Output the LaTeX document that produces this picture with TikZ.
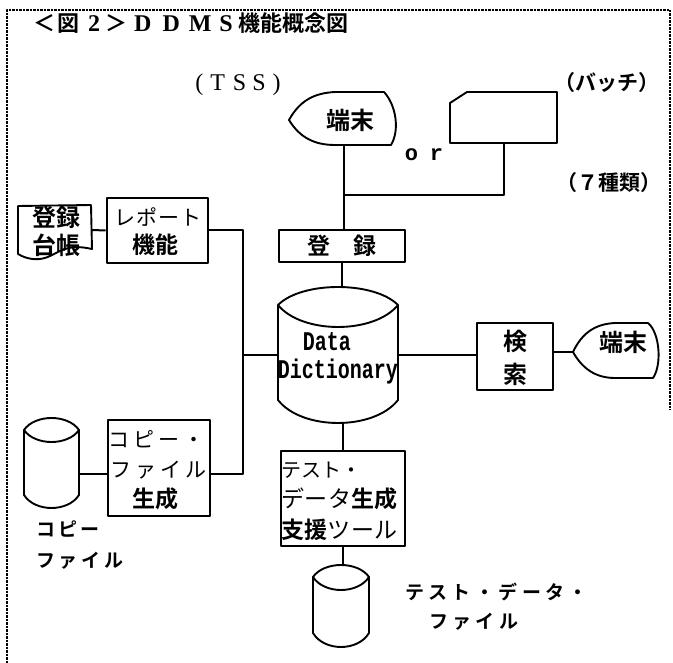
\documentclass[tikz,border=0pt]{standalone}
\usepackage{fontspec}
\usepackage{graphicx}
\newfontfamily\jp{Noto Sans CJK JP}
\newfontfamily\jpb{Noto Sans CJK JP Bold}
\newfontfamily\srf{Liberation Serif}
\newfontfamily\srbf{Liberation Serif Bold}
\newfontfamily\mbf{Liberation Mono Bold}
\newcommand\J[3]{{\jp\fontsize{#1}{#1}\selectfont\addfontfeature{LetterSpace=#2}#3}}
\newcommand\JB[3]{{\jpb\fontsize{#1}{#1}\selectfont\addfontfeature{LetterSpace=#2}#3}}
\newcommand\ddisk[7]{%
\draw[shp] (#1,#4) .. controls ({#1+0.2*(#2-#1)},{#4+4/3*(#3-#4)}) and ({#2-0.2*(#2-#1)},{#4+4/3*(#3-#4)}) .. (#2,#4) -- (#2,#6) .. controls ({#2-0.2*(#2-#1)},{#6+4/3*(#7-#6)}) and ({#1+0.2*(#2-#1)},{#6+4/3*(#7-#6)}) .. (#1,#6) -- cycle;
\draw[shp] (#1,#4) .. controls ({#1+0.2*(#2-#1)},{#4+4/3*(#5-#4)}) and ({#2-0.2*(#2-#1)},{#4+4/3*(#5-#4)}) .. (#2,#4);}
\begin{document}
\begin{tikzpicture}[x=1pt,y=-1pt,line join=round,
  conn/.style={line width=2pt},
  shp/.style={line width=1.9pt},
  boxst/.style={draw,line width=2.8pt,inner sep=0},
  ghost/.style={inner sep=0},
  txt/.style={inner sep=0},
  border/.style={line width=1.1pt,dash pattern=on 2.5pt off 1pt}]
\useasboundingbox (0,0) rectangle (673,663);
\draw[border] (7,663) -- (7,10) -- (670,10) -- (670,410);
% title
\node[anchor=west,inner sep=0] (title) at (33,23) {\jpb\fontsize{22}{22}\selectfont ＜\kern2pt 図\kern9pt{\srbf\fontsize{24}{24}\selectfont 2}\kern5pt ＞\kern7pt{\srbf\fontsize{24}{24}\selectfont D\kern11pt D\kern9pt M\kern8pt S}\kern6pt 機能概念図};
% shapes
\draw[shp] (289,120) .. controls (300,100) and (315,93) .. (335,92) -- (384,92) .. controls (396,105) and (400,130) .. (391,145) -- (335,145) .. controls (315,145) and (300,138) .. (289,120) -- cycle;
\draw[shp] (573,352) .. controls (582,333) and (595,324) .. (615,323) -- (648,323) .. controls (660,333) and (662,365) .. (653,378) -- (615,378) .. controls (595,378) and (582,368) .. (573,352) -- cycle;
\draw[shp] (450,103) -- (467,92) -- (557,92) -- (557,143) -- (450,143) -- cycle;
\draw[shp] (18,206) -- (91,205) -- (92,249) .. controls (70,244) and (62,250) .. (50,256) .. controls (40,261) and (28,260) .. (18,254) -- cycle;
\ddisk{278}{398}{287}{305}{327}{400}{423}
\ddisk{24}{79}{418}{430}{442}{495}{508}
\ddisk{313}{369}{565}{577}{590}{633}{647}
% ghost nodes for shapes
\node[ghost,minimum width=109,minimum height=53] (t1) at (343.5,118.5) {};
\node[ghost,minimum width=107,minimum height=51] (bt) at (503.5,117.5) {};
\node[ghost,minimum width=87,minimum height=55] (t2) at (616.5,352) {};
\node[ghost,minimum width=74,minimum height=52] (doc) at (55,230) {};
\node[ghost,minimum width=120,minimum height=136] (dd) at (338,355) {};
\node[ghost,minimum width=55,minimum height=90] (cc) at (51.5,463) {};
\node[ghost,minimum width=56,minimum height=82] (bc) at (341,606) {};
% boxes
\node[boxst,minimum width=126,minimum height=32] (reg) at (342,246) {};
\node[boxst,minimum width=101,minimum height=65] (rep) at (157.5,230.5) {};
\node[boxst,minimum width=76,minimum height=67] (srch) at (515,356.5) {};
\node[boxst,minimum width=102,minimum height=96] (cpy) at (159,468) {};
\node[boxst,minimum width=124,minimum height=95] (tst) at (343,498.5) {};
% texts
\node[txt] (tss) at (238,85) {\srf\fontsize{24}{24}\selectfont (\kern7pt T\kern8pt S\kern6pt S\kern7pt)};
\node[txt] (batchlab) at (607,83) {\JB{21}{0}{（バッチ）}};
\node[txt] (t1lab) at (350,120) {\JB{24}{0}{端末}};
\node[txt] (orlab) at (424,155) {\mbf\fontsize{22}{22}\selectfont o\kern12pt r};
\node[txt] (kinds) at (609,183) {\JB{21}{0}{（７種類）}};
\node[txt] (reglab) at (342,246) {\JB{23}{0}{登\kern24pt 録}};
\node[txt] (doc1) at (56,217) {\JB{24}{0}{登録}};
\node[txt] (doc2) at (56,245) {\JB{24}{0}{台帳}};
\node[txt] (rep1) at (158,217) {\J{21}{5}{レポート}};
\node[txt] (rep2) at (155,245) {\JB{23}{0}{機能}};
\node[txt] (srch1) at (515,341) {\JB{24}{0}{検}};
\node[txt] (srch2) at (515,374) {\JB{24}{0}{索}};
\node[txt] (t2lab) at (623,342) {\JB{24}{0}{端末}};
\node[txt] (dd1) at (327,342) {\mbf\fontsize{20}{20}\selectfont\scalebox{1}[1.35]{Data}};
\node[txt] (dd2) at (338,372) {\mbf\fontsize{20}{20}\selectfont\scalebox{1}[1.35]{Dictionary}};
\node[txt,anchor=west] (cpy1) at (108,439) {\J{21}{20}{コピー・}};
\node[txt,anchor=west] (cpy2) at (110,470) {\J{21}{20}{ファイル}};
\node[txt] (cpy3) at (155,499) {\JB{23}{0}{生成}};
\node[txt,anchor=west] (tst1) at (281,470) {\J{20}{0}{テスト・}};
\node[txt,anchor=west] (tst2) at (281,499) {\J{23}{2}{データ}\JB{23}{2}{生成}};
\node[txt,anchor=west] (tst3) at (281,530) {\JB{23}{2}{支援}\J{23}{2}{ツール}};
\node[txt,anchor=west] (cl1) at (36,529) {\JB{19}{16}{コピー}};
\node[txt,anchor=west] (cl2) at (36,561) {\JB{19}{20}{ファイル}};
\node[txt,anchor=west] (tl1) at (405,592) {\JB{19}{23}{テスト・データ・}};
\node[txt,anchor=west] (tl2) at (429,622) {\JB{19}{23}{ファイル}};
% connectors
\coordinate (tb) at (243,474);
\coordinate (jb) at (343.5,195);
\draw[conn] (doc.east) -- (rep.west);
\draw[conn] (rep.east) -| (tb) -- (tb -| cpy.east);
\draw[conn] (tb |- dd.west) -- (dd.west);
\draw[conn] (cc.east |- tb) -- (cpy.west |- tb);
\draw[conn] (t1.south) -- (t1.south |- reg.north);
\draw[conn] (bt.south) |- (jb);
\draw[conn] (reg.south) -- (reg.south |- dd.north);
\draw[conn] (dd.east) -- (dd.east -| srch.west);
\draw[conn] (srch.east |- t2.west) -- (t2.west);
\draw[conn] (tst.north) -- (tst.north |- dd.south);
\draw[conn] (tst.south) -- (tst.south |- bc.north);
\end{tikzpicture}
\end{document}
